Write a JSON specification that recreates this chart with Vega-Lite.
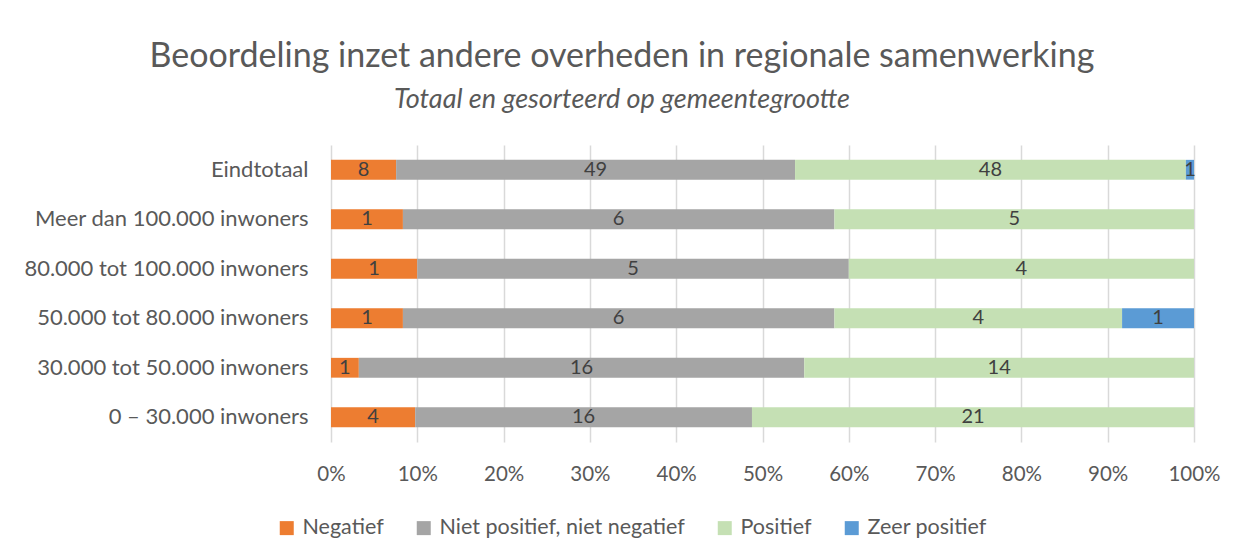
{
  "$schema": "https://vega.github.io/schema/vega-lite/v6.json",
  "autosize": "none",
  "width": 863,
  "height": 297,
  "padding": {"left": 331, "top": 145, "right": 47, "bottom": 113},
  "background": "white",
  "title": {
    "text": "Beoordeling inzet andere overheden in regionale samenwerking",
    "subtitle": "Totaal en gesorteerd op gemeentegrootte",
    "anchor": "middle",
    "frame": "bounds",
    "font": "Lato",
    "fontSize": 34,
    "fontWeight": "normal",
    "color": "#595959",
    "subtitleFont": "Lato",
    "subtitleFontSize": 27,
    "subtitleFontStyle": "italic",
    "subtitleColor": "#595959",
    "subtitlePadding": 13,
    "offset": 32
  },
  "data": {
    "values": [
      {"cat": "Eindtotaal", "resp": "Negatief", "o": 1, "n": 8},
      {"cat": "Eindtotaal", "resp": "Niet positief, niet negatief", "o": 2, "n": 49},
      {"cat": "Eindtotaal", "resp": "Positief", "o": 3, "n": 48},
      {"cat": "Eindtotaal", "resp": "Zeer positief", "o": 4, "n": 1},
      {"cat": "Meer dan 100.000 inwoners", "resp": "Negatief", "o": 1, "n": 1},
      {"cat": "Meer dan 100.000 inwoners", "resp": "Niet positief, niet negatief", "o": 2, "n": 6},
      {"cat": "Meer dan 100.000 inwoners", "resp": "Positief", "o": 3, "n": 5},
      {"cat": "80.000 tot 100.000 inwoners", "resp": "Negatief", "o": 1, "n": 1},
      {"cat": "80.000 tot 100.000 inwoners", "resp": "Niet positief, niet negatief", "o": 2, "n": 5},
      {"cat": "80.000 tot 100.000 inwoners", "resp": "Positief", "o": 3, "n": 4},
      {"cat": "50.000 tot 80.000 inwoners", "resp": "Negatief", "o": 1, "n": 1},
      {"cat": "50.000 tot 80.000 inwoners", "resp": "Niet positief, niet negatief", "o": 2, "n": 6},
      {"cat": "50.000 tot 80.000 inwoners", "resp": "Positief", "o": 3, "n": 4},
      {"cat": "50.000 tot 80.000 inwoners", "resp": "Zeer positief", "o": 4, "n": 1},
      {"cat": "30.000 tot 50.000 inwoners", "resp": "Negatief", "o": 1, "n": 1},
      {"cat": "30.000 tot 50.000 inwoners", "resp": "Niet positief, niet negatief", "o": 2, "n": 16},
      {"cat": "30.000 tot 50.000 inwoners", "resp": "Positief", "o": 3, "n": 14},
      {"cat": "0 – 30.000 inwoners", "resp": "Negatief", "o": 1, "n": 4},
      {"cat": "0 – 30.000 inwoners", "resp": "Niet positief, niet negatief", "o": 2, "n": 16},
      {"cat": "0 – 30.000 inwoners", "resp": "Positief", "o": 3, "n": 21}
    ]
  },
  "transform": [
    {"stack": "n", "groupby": ["cat"], "offset": "normalize", "sort": [{"field": "o", "order": "ascending"}], "as": ["x0", "x1"]},
    {"calculate": "(datum.x0 + datum.x1) / 2", "as": "xm"}
  ],
  "encoding": {
    "y": {
      "field": "cat",
      "type": "nominal",
      "sort": ["Eindtotaal", "Meer dan 100.000 inwoners", "80.000 tot 100.000 inwoners", "50.000 tot 80.000 inwoners", "30.000 tot 50.000 inwoners", "0 – 30.000 inwoners"],
      "scale": {"paddingInner": 0.6, "paddingOuter": 0.3},
      "axis": {
        "title": null,
        "domain": false,
        "ticks": false,
        "labelFont": "Lato",
        "labelFontSize": 22,
        "labelColor": "#595959",
        "labelPadding": 23,
        "labelLimit": 400
      }
    }
  },
  "layer": [
    {
      "mark": {"type": "bar"},
      "encoding": {
        "x": {
          "field": "x0",
          "type": "quantitative",
          "scale": {"domain": [0, 1], "nice": false},
          "axis": {
            "title": null,
            "format": ".0%",
            "values": [0, 0.1, 0.2, 0.3, 0.4, 0.5, 0.6, 0.7, 0.8, 0.9, 1],
            "domain": false,
            "ticks": false,
            "grid": true,
            "gridColor": "#d9d9d9",
            "gridWidth": 1.5,
            "labelFlush": false,
            "labelFont": "Lato",
            "labelFontSize": 20.5,
            "labelColor": "#595959",
            "labelPadding": 22
          }
        },
        "x2": {"field": "x1"},
        "color": {
          "field": "resp",
          "type": "nominal",
          "scale": {
            "domain": ["Negatief", "Niet positief, niet negatief", "Positief", "Zeer positief"],
            "range": ["#ED7D31", "#A5A5A5", "#C5E0B4", "#5B9BD5"]
          },
          "legend": {
            "title": null,
            "orient": "none",
            "direction": "horizontal",
            "columns": 4,
            "legendX": -55,
            "legendY": 372,
            "symbolType": "square",
            "symbolSize": 196,
            "symbolStrokeWidth": 0,
            "symbolOpacity": 1,
            "labelFont": "Lato",
            "labelFontSize": 21.5,
            "labelColor": "#595959",
            "columnPadding": 29,
            "labelOffset": 5,
            "labelLimit": 400
          }
        }
      }
    },
    {
      "mark": {"type": "text", "font": "Lato", "fontSize": 20, "color": "#404040", "baseline": "middle"},
      "encoding": {
        "x": {"field": "xm", "type": "quantitative"},
        "text": {"field": "n", "type": "quantitative"}
      }
    }
  ],
  "config": {
    "view": {"stroke": null}
  }
}
